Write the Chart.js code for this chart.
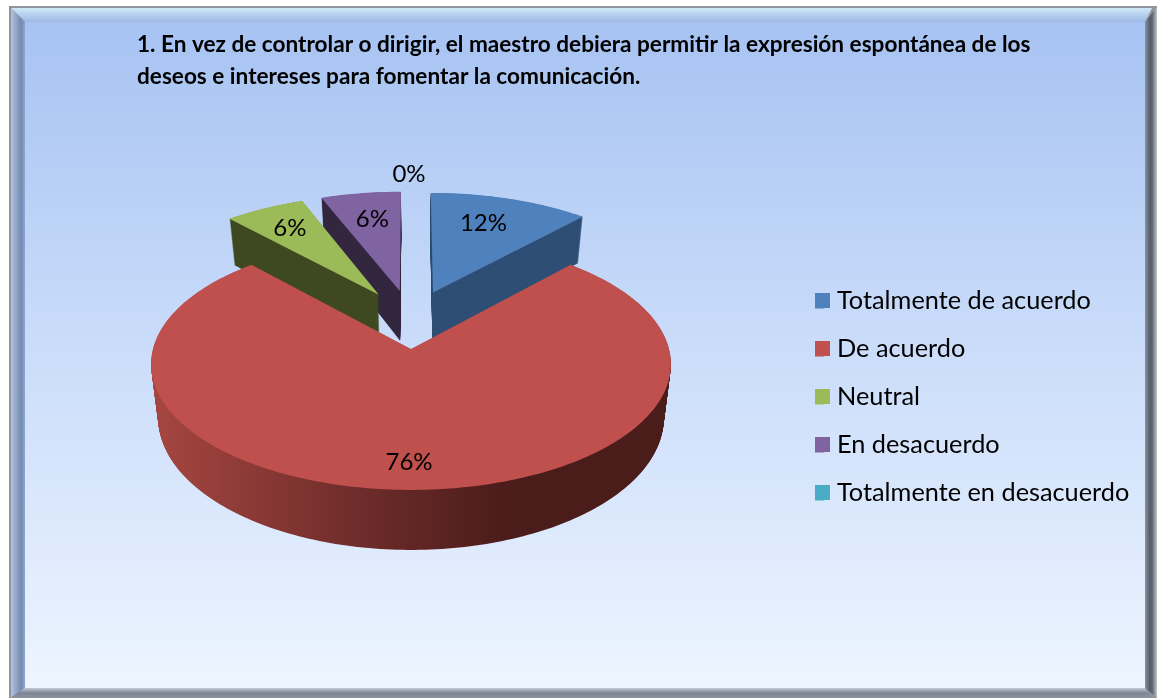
<!DOCTYPE html>
<html><head><meta charset="utf-8">
<style>html,body{margin:0;padding:0;background:#fff}canvas{display:block}</style>
<script src="https://cdn.jsdelivr.net/npm/chart.js@4/dist/chart.umd.js"></script>
</head><body><canvas id="c" width="1157" height="698"></canvas>
<script>
const categories = ["Totalmente de acuerdo","De acuerdo","Neutral","En desacuerdo","Totalmente en desacuerdo"];
const values = [2,13,1,1,0];
const percentLabels = ["12%","76%","6%","6%","0%"];
const titleLines = ["1. En vez de controlar o dirigir, el maestro debiera permitir la expresión espontánea de los","deseos e intereses para fomentar la comunicación."];
const sliceColors = ["#4f81bd","#c0504d","#9bbb59","#8064a2","#4bacc6"];
const wallColors = ["#2f4f75","#000","#3f4a22","#33263f","#2d6a7a"];
const labelRadii = [0.68,0.81,0.76,0.73,1.22];
const labelNudgeX = [-4,-2,0,2,-2];
const labelNudgeY = [-4,2,1,2,2];
const drawOrder = [0,3,2,1];

// perspective projection of the pie plane
const P = {cx:411, cy:349, a:258, b:124, k:0.12, depth:52.8, shrink:0.027, explode:0.25};
function proj(X,Y,z){
  const w = 1+P.k*Y;
  return [P.cx + P.a*X/w*(1-P.shrink*z), P.cy - P.b*Y/w + P.depth*z/w];
}
function sliceGeom(el){
  const s = el.startAngle+Math.PI/2, e = el.endAngle+Math.PI/2, m=(s+e)/2;
  // pie centre sits one explode step above the red slice's apex
  const ox = P.explode*Math.sin(m), oy = P.explode+P.explode*Math.cos(m);
  return {s,e,m,ox,oy};
}
function slicePath(ctx,g,z){
  ctx.beginPath();
  let p = proj(g.ox,g.oy,z); ctx.moveTo(p[0],p[1]);
  const n = Math.max(8,Math.ceil((g.e-g.s)/0.02));
  for(let i=0;i<=n;i++){
    const t=g.s+(g.e-g.s)*i/n;
    p=proj(g.ox+Math.sin(t),g.oy+Math.cos(t),z);
    ctx.lineTo(p[0],p[1]);
  }
  ctx.closePath();
}
const pie3d = {
  id:'pie3d',
  beforeDraw(chart){
    const c=chart.ctx, W=chart.width, H=chart.height;
    c.save();
    c.fillStyle='#fff'; c.fillRect(0,0,W,H);
    // frame
    const L=10,T=7,R=1152,B=698,il=25,it=22,ir=1145,ib=688;
    c.fillStyle='#8f949e'; c.fillRect(L-1,T-1,R-L+6,B-T+1);
    let g=c.createLinearGradient(0,T,0,it); g.addColorStop(0,'#d3ebf6'); g.addColorStop(1,'#9db8e6');
    c.fillStyle=g; c.beginPath(); c.moveTo(L+1,T+1);c.lineTo(R,T+1);c.lineTo(ir,it);c.lineTo(il,it);c.closePath();c.fill();
    g=c.createLinearGradient(L,0,il,0); g.addColorStop(0,'#b9c9e6'); g.addColorStop(.75,'#7389ae'); g.addColorStop(1,'#8ea6d2');
    c.fillStyle=g; c.beginPath(); c.moveTo(L+1,T+1);c.lineTo(il,it);c.lineTo(il,ib);c.lineTo(L+1,B);c.closePath();c.fill();
    g=c.createLinearGradient(ir,0,1157,0); g.addColorStop(0,'#8c93a0'); g.addColorStop(.4,'#565d6b'); g.addColorStop(.6,'#5f6672'); g.addColorStop(1,'#c3c7cd');
    c.fillStyle=g; c.beginPath(); c.moveTo(ir,it);c.lineTo(1157,T);c.lineTo(1157,B);c.lineTo(ir,ib);c.closePath();c.fill();
    g=c.createLinearGradient(0,ib,0,B); g.addColorStop(0,'#c4cbd6'); g.addColorStop(.5,'#7d8492'); g.addColorStop(1,'#8f949e');
    c.fillStyle=g; c.beginPath(); c.moveTo(il,ib);c.lineTo(ir,ib);c.lineTo(1152,B);c.lineTo(L,B);c.closePath();c.fill();
    // panel
    g=c.createLinearGradient(0,it,0,ib);
    g.addColorStop(0,'#a7c3f2'); g.addColorStop(.5,'#cbddfa'); g.addColorStop(1,'#edf5ff');
    c.fillStyle=g; c.fillRect(il,it,ir-il,ib-it);
    c.restore();
  },
  afterLayout(chart){
    const l=chart.legend;
    const h=l.bottom-l.top;
    l.left=792.3; l.right=1157; l.top=265.65; l.bottom=l.top+h;
  },
  beforeDatasetDraw(chart,args){
    const c=chart.ctx, els=chart.getDatasetMeta(0).data;
    c.save();
    drawOrder.forEach(i=>{
      const el=els[i]; if(el.circumference===0||values[i]===0) return;
      const g=sliceGeom(el);
      let side=wallColors[i];
      if(i===1){
        const lg=c.createLinearGradient(155,0,510,0);
        lg.addColorStop(0,'#a64641'); lg.addColorStop(.55,'#702d2b'); lg.addColorStop(1,'#4a1c1a');
        side=lg;
      }
      c.fillStyle=side; c.strokeStyle=side; c.lineWidth=1;
      for(let z=1;z>0;z-=0.015){ slicePath(c,g,z); c.fill(); }
      slicePath(c,g,0); c.fillStyle=sliceColors[i]; c.fill();
    });
    c.restore();
    return false;
  },
  afterDatasetsDraw(chart){
    const c=chart.ctx, els=chart.getDatasetMeta(0).data;
    c.save();
    c.font='24px Lato'; c.fillStyle='#000'; c.textAlign='center'; c.textBaseline='middle';
    els.forEach((el,i)=>{
      const g=sliceGeom(el), r=labelRadii[i];
      const p=proj(g.ox+r*Math.sin(g.m),g.oy+r*Math.cos(g.m),0);
      c.fillText(percentLabels[i],p[0]+labelNudgeX[i],p[1]+labelNudgeY[i]);
    });
    c.restore();
  },
  afterDraw(chart){
    // widen legend swatches to square
    const c=chart.ctx;
    c.save();
    categories.forEach((n,i)=>{
      c.fillStyle=sliceColors[i];
      c.fillRect(815,293+48*i,15,15);
    });
    c.restore();
  }
};
new Chart(document.getElementById('c'),{
  type:'pie',
  data:{labels:categories,datasets:[{data:values,backgroundColor:sliceColors,borderWidth:0}]},
  options:{
    responsive:false,animation:false,
    layout:{padding:{left:137,top:0,right:0,bottom:0}},
    plugins:{
      tooltip:{enabled:false},
      title:{display:true,text:titleLines,align:'start',color:'#000',padding:{top:29,bottom:0},
        font:{family:'Lato',size:22.6,weight:'bold',lineHeight:1.416}},
      legend:{position:'right',align:'start',
        labels:{boxWidth:9.35,boxHeight:15,padding:22.7,color:'#000',font:{family:'Lato',size:25.3,lineHeight:1}}}
    }
  },
  plugins:[pie3d]
});
</script></body></html>
